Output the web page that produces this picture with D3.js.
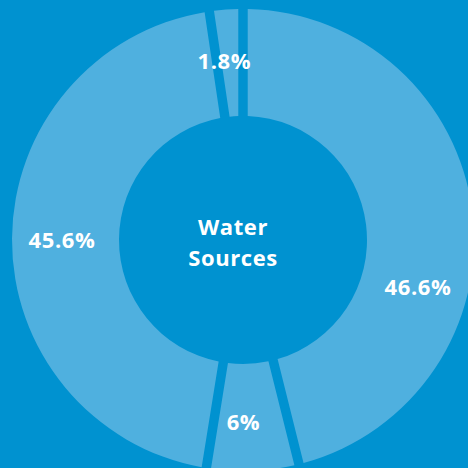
<!DOCTYPE html>
<html>
<head>
<meta charset="utf-8">
<script src="https://cdn.jsdelivr.net/npm/d3@7"></script>
<style>
    html, body { margin: 0; padding: 0; background: #0092d0; }
    svg { display: block; }
    text { font-family: "Open Sans", "Noto Sans", sans-serif; font-weight: 700; fill: #fff; letter-spacing: 0.6px; }
</style>
</head>
<body>
<svg id="chart"></svg>
<script>
const WIDTH = 468;
const HEIGHT = 468;
const BG = "#0092d0";
const SLICE = "#4fb0df";

// share of each water source, clockwise from 12 o'clock
const values = [46.6, 6, 45.6, 1.8];
const labels = ["46.6%", "6%", "45.6%", "1.8%"];
const centerTitle = ["Water", "Sources"];

// small angular nudge (radians) for labels that sit off the centroid
const LABEL_NUDGE = [0.38, 0.04, 0, -0.03];

const cx = 243;
const cy = 240;
const innerR = 124;
const outerR = 231;
const labelR = 181;

const svg = d3.select("#chart")
    .attr("width", WIDTH)
    .attr("height", HEIGHT);

svg.append("rect")
    .attr("width", WIDTH)
    .attr("height", HEIGHT)
    .attr("fill", BG);

const pie = d3.pie()
    .sort(null)
    .padAngle(0.036)
    .value(d => d);

const arc = d3.arc()
    .innerRadius(innerR)
    .outerRadius(outerR);

const g = svg.append("g").attr("transform", `translate(${cx},${cy})`);
const arcs = pie(values);

g.selectAll("path.slice")
    .data(arcs)
    .join("path")
    .attr("class", "slice")
    .attr("d", arc)
    .attr("fill", SLICE);

g.selectAll("text.lbl")
    .data(arcs)
    .join("text")
    .attr("class", "lbl")
    .attr("text-anchor", "middle")
    .attr("dominant-baseline", "central")
    .attr("font-size", 22)
    .attr("x", (d, i) => labelR * Math.sin((d.startAngle + d.endAngle) / 2 + LABEL_NUDGE[i]))
    .attr("y", (d, i) => -labelR * Math.cos((d.startAngle + d.endAngle) / 2 + LABEL_NUDGE[i]))
    .text((d, i) => labels[i]);

g.selectAll("text.title")
    .data(centerTitle)
    .join("text")
    .attr("class", "title")
    .attr("text-anchor", "middle")
    .attr("dominant-baseline", "central")
    .attr("font-size", 22)
    .attr("x", -10)
    .attr("y", (d, i) => -14 + i * 31)
    .text(d => d);
</script>
</body>
</html>
